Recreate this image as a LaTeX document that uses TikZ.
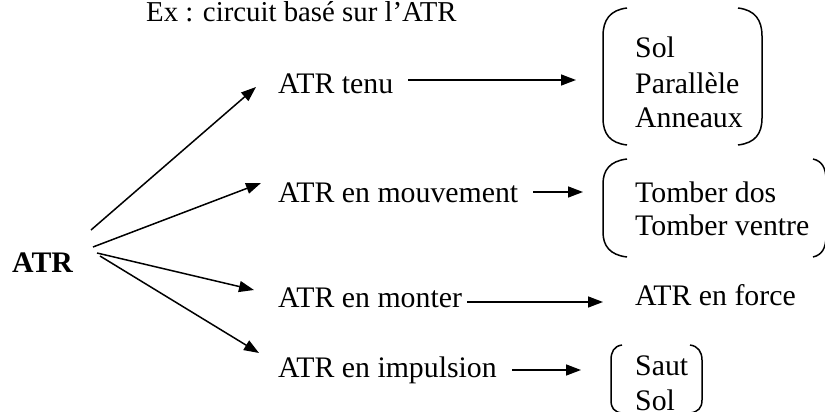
\documentclass[tikz,border=0pt]{standalone}
\usepackage{fontspec}
\setmainfont{Liberation Serif}
\usetikzlibrary{arrows.meta}
\begin{document}
\begin{tikzpicture}[x=1pt,y=-1pt,
  txt/.style={anchor=base west,inner sep=0pt,font=\fontsize{29.8}{34}\selectfont},
  arr/.style={line width=1.5pt,-{Triangle[length=15pt,width=11pt]}},
  paren/.style={line width=1.5pt}]
\useasboundingbox (0,0) rectangle (825,412);
% texts
\node[txt,font=\fontsize{28.8}{34}\selectfont] (title) at (146,22) {Ex : circuit basé sur l’ATR};
\node[txt,font=\fontsize{29.8}{34}\selectfont\bfseries] (atr) at (12,272) {ATR};
\node[txt] (tenu) at (278,94) {ATR tenu};
\node[txt] (mouv) at (278,202) {ATR en mouvement};
\node[txt] (mont) at (278,307) {ATR en monter};
\node[txt] (impu) at (278,377) {ATR en impulsion};
\node[txt] (sol1) at (635,58) {Sol};
\node[txt] (para) at (635,93) {Parallèle};
\node[txt] (anne) at (635,128) {Anneaux};
\node[txt] (tdos) at (635,202) {Tomber dos};
\node[txt] (tven) at (635,235) {Tomber ventre};
\node[txt] (forc) at (635,305) {ATR en force};
\node[txt] (saut) at (635,375) {Saut};
\node[txt] (sol2) at (635,410) {Sol};
% ports
\coordinate (a1) at (91,230);
\coordinate (a2) at (93,247);
\coordinate (a3) at (97,253);
\coordinate (a4) at (100,256);
\coordinate (t1) at (256,87);
\coordinate (t2) at (261,183);
\coordinate (t3) at (254,290);
\coordinate (t4) at (259,353);
\coordinate (r1s) at (408,80);  \coordinate (r1e) at (576,80);
\coordinate (r2s) at (533,192); \coordinate (r2e) at (583,192);
\coordinate (r3s) at (467,302); \coordinate (r3e) at (603,302);
\coordinate (r4s) at (512,370); \coordinate (r4e) at (581,370);
% connectors
\draw[arr] (a1) -- (t1);
\draw[arr] (a2) -- (t2);
\draw[arr] (a3) -- (t3);
\draw[arr] (a4) -- (t4);
\draw[arr] (r1s) -- (r1e);
\draw[arr] (r2s) -- (r2e);
\draw[arr] (r3s) -- (r3e);
\draw[arr] (r4s) -- (r4e);
% brackets group 1
\draw[paren] (627,8) .. controls (610,10) and (603,20) .. (603,36) -- (603,118) .. controls (603,134) and (610,143) .. (627,145);
\draw[paren] (738,8) .. controls (755,10) and (762,20) .. (762,36) -- (762,118) .. controls (762,134) and (755,143) .. (738,145);
% brackets group 2
\draw[paren] (627,159) .. controls (610,161) and (603,170) .. (603,184) -- (603,232) .. controls (603,246) and (610,255) .. (627,257);
\draw[paren] (813,159) .. controls (822,161) and (826,168) .. (826,180) -- (826,236) .. controls (826,248) and (822,255) .. (813,257);
% brackets group 4
\draw[paren] (622,345) .. controls (614,346) and (611,352) .. (611,360) -- (611,400) .. controls (611,408) and (614,412) .. (622,413);
\draw[paren] (690,345) .. controls (698,346) and (702,352) .. (702,360) -- (702,400) .. controls (702,408) and (698,412) .. (690,413);
\end{tikzpicture}
\end{document}
